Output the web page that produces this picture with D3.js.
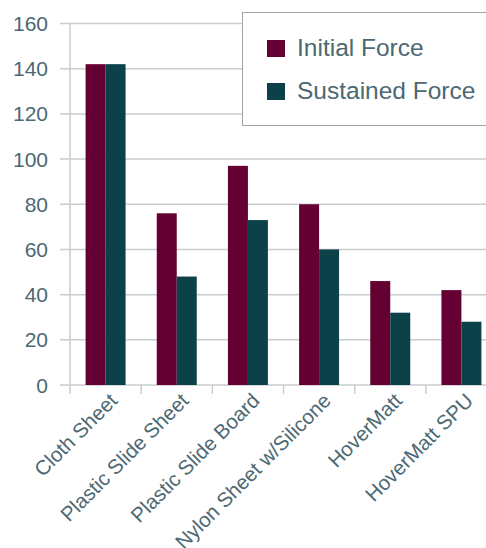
<!DOCTYPE html>
<html>
<head>
<meta charset="utf-8">
<script src="https://cdn.jsdelivr.net/npm/d3@7"></script>
<style>
  html, body { margin: 0; padding: 0; background: #fff; }
  svg { display: block; }
</style>
</head>
<body>
<div id="chart"></div>
<script>
// ─── Data ───
const categories = [
  "Cloth Sheet",
  "Plastic Slide Sheet",
  "Plastic Slide Board",
  "Nylon Sheet w/Silicone",
  "HoverMatt",
  "HoverMatt SPU",
];
const seriesNames = ["Initial Force", "Sustained Force"];
const initialForce = [142, 76, 97, 80, 46, 42];
const sustainedForce = [142, 48, 73, 60, 32, 28];
const yTicks = [0, 20, 40, 60, 80, 100, 120, 140, 160];

const COLORS = ["#650032", "#0d4149"];
const TEXT = "#4c6872";
const GRID = "#c9cdcd";
const FONT = "'Liberation Sans', Arial, sans-serif";

const width = 486, height = 548;
const svg = d3.select("#chart").append("svg")
  .attr("width", width)
  .attr("height", height);

// ── Scales ──
const x0 = d3.scaleBand().domain(categories).range([70, 497]).padding(0);
const x1 = d3.scaleBand().domain(seriesNames)
  .range([0, x0.bandwidth()])
  .paddingInner(0)
  .paddingOuter(0.78);
const y = d3.scaleLinear().domain([0, 160]).range([385, 23.5]);

// ── Gridlines ──
svg.append("g")
  .selectAll("line")
  .data(yTicks)
  .join("line")
  .attr("x1", 60)
  .attr("x2", width)
  .attr("y1", (d) => y(d))
  .attr("y2", (d) => y(d))
  .attr("stroke", GRID)
  .attr("stroke-width", 1.5);

// vertical axis line
svg.append("line")
  .attr("x1", 70).attr("x2", 70)
  .attr("y1", y(160)).attr("y2", y(0) + 9)
  .attr("stroke", GRID).attr("stroke-width", 1.5);

// category tick marks
svg.append("g")
  .selectAll("line")
  .data(categories.slice(1))
  .join("line")
  .attr("x1", (d) => x0(d))
  .attr("x2", (d) => x0(d))
  .attr("y1", y(0))
  .attr("y2", y(0) + 9)
  .attr("stroke", GRID)
  .attr("stroke-width", 1.5);

// y tick labels
svg.append("g")
  .selectAll("text")
  .data(yTicks)
  .join("text")
  .attr("x", 48)
  .attr("y", (d) => y(d))
  .attr("dy", "0.36em")
  .attr("text-anchor", "end")
  .style("font-family", FONT)
  .style("font-size", "21px")
  .style("fill", TEXT)
  .text((d) => d);

// ── Bars ──
const rows = categories.map((c, i) => ({
  cat: c,
  values: [initialForce[i], sustainedForce[i]],
}));

const groups = svg.append("g")
  .selectAll("g")
  .data(rows)
  .join("g")
  .attr("transform", (d) => `translate(${x0(d.cat)},0)`);

groups.selectAll("rect")
  .data((d) => d.values.map((v, k) => ({ key: seriesNames[k], v, k })))
  .join("rect")
  .attr("x", (d) => x1(d.key))
  .attr("width", x1.bandwidth())
  .attr("y", (d) => y(d.v))
  .attr("height", (d) => y(0) - y(d.v))
  .attr("fill", (d) => COLORS[d.k]);

// ── Category labels ──
svg.append("g")
  .selectAll("text")
  .data(categories)
  .join("text")
  .attr("text-anchor", "end")
  .attr("transform", (d) => {
    const cx = x0(d) + x0.bandwidth() / 2 + 13;
    return `translate(${cx},${402}) rotate(-45)`;
  })
  .style("font-family", FONT)
  .style("font-size", "20.5px")
  .style("fill", TEXT)
  .text((d) => d);

// ── Legend ──
const lg = svg.append("g");
lg.append("rect")
  .attr("x", 242.5)
  .attr("y", 12.5)
  .attr("width", 270)
  .attr("height", 113)
  .attr("fill", "#fff")
  .attr("stroke", "#a3a3a3")
  .attr("stroke-width", 1);

const items = lg.selectAll("g.item")
  .data(seriesNames)
  .join("g")
  .attr("class", "item")
  .attr("transform", (d, i) => `translate(267,${40 + i * 43})`);

items.append("rect")
  .attr("width", 18)
  .attr("height", 17)
  .attr("fill", (d, i) => COLORS[i]);

items.append("text")
  .attr("x", 30)
  .attr("y", 16)
  .style("font-family", FONT)
  .style("font-size", "24.5px")
  .style("fill", TEXT)
  .text((d) => d);
</script>
</body>
</html>
